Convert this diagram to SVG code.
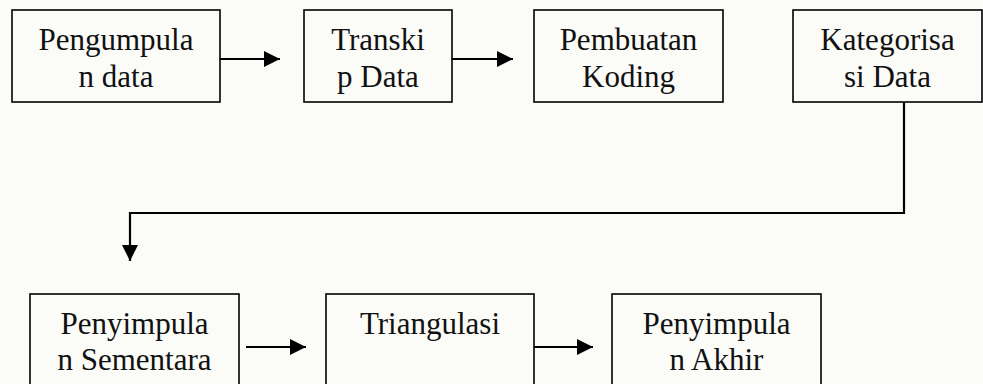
<svg xmlns="http://www.w3.org/2000/svg" width="983" height="384" viewBox="0 0 983 384">
<defs>
<style>
.box{fill:none;stroke:#000;stroke-width:1.6}
.lbl{font-family:"Liberation Serif","Times New Roman",serif;font-size:31px;fill:#111;text-anchor:middle}
.con{fill:none;stroke:#000;stroke-width:2.2}
</style>
<marker id="ah" viewBox="0 0 16 16" refX="16" refY="8" markerWidth="16" markerHeight="16" markerUnits="userSpaceOnUse" orient="auto">
<path d="M0,0 L16,8 L0,16 Z" fill="#000"/>
</marker>
</defs>
<rect x="0" y="0" width="983" height="384" fill="#fbfbf8"/>
<g id="n1"><rect class="box" x="12" y="10" width="208" height="92"/><text class="lbl" x="116" y="50">Pengumpula</text><text class="lbl" x="116" y="87">n data</text></g>
<g id="n2"><rect class="box" x="304" y="10" width="148" height="92"/><text class="lbl" x="378" y="50">Transki</text><text class="lbl" x="378" y="87">p Data</text></g>
<g id="n3"><rect class="box" x="534" y="10" width="189" height="92"/><text class="lbl" x="628.5" y="50">Pembuatan</text><text class="lbl" x="628.5" y="87">Koding</text></g>
<g id="n4"><rect class="box" x="793" y="10" width="189" height="92"/><text class="lbl" x="887.5" y="50">Kategorisa</text><text class="lbl" x="887.5" y="87">si Data</text></g>
<g id="n5"><rect class="box" x="30" y="294" width="209" height="110"/><text class="lbl" x="134.5" y="334">Penyimpula</text><text class="lbl" x="134.5" y="370">n Sementara</text></g>
<g id="n6"><rect class="box" x="326" y="294" width="208" height="110"/><text class="lbl" x="430" y="334">Triangulasi</text></g>
<g id="n7"><rect class="box" x="612" y="294" width="209" height="110"/><text class="lbl" x="716.5" y="334">Penyimpula</text><text class="lbl" x="716.5" y="370">n Akhir</text></g>
<g id="connectors">
<line class="con" x1="220" y1="59" x2="280" y2="59" marker-end="url(#ah)"/>
<line class="con" x1="452" y1="59" x2="513" y2="59" marker-end="url(#ah)"/>
<polyline class="con" points="904,102 904,213 130,213 130,261" marker-end="url(#ah)"/>
<line class="con" x1="246" y1="347" x2="306" y2="347" marker-end="url(#ah)"/>
<line class="con" x1="534" y1="347" x2="593" y2="347" marker-end="url(#ah)"/>
</g>
</svg>
